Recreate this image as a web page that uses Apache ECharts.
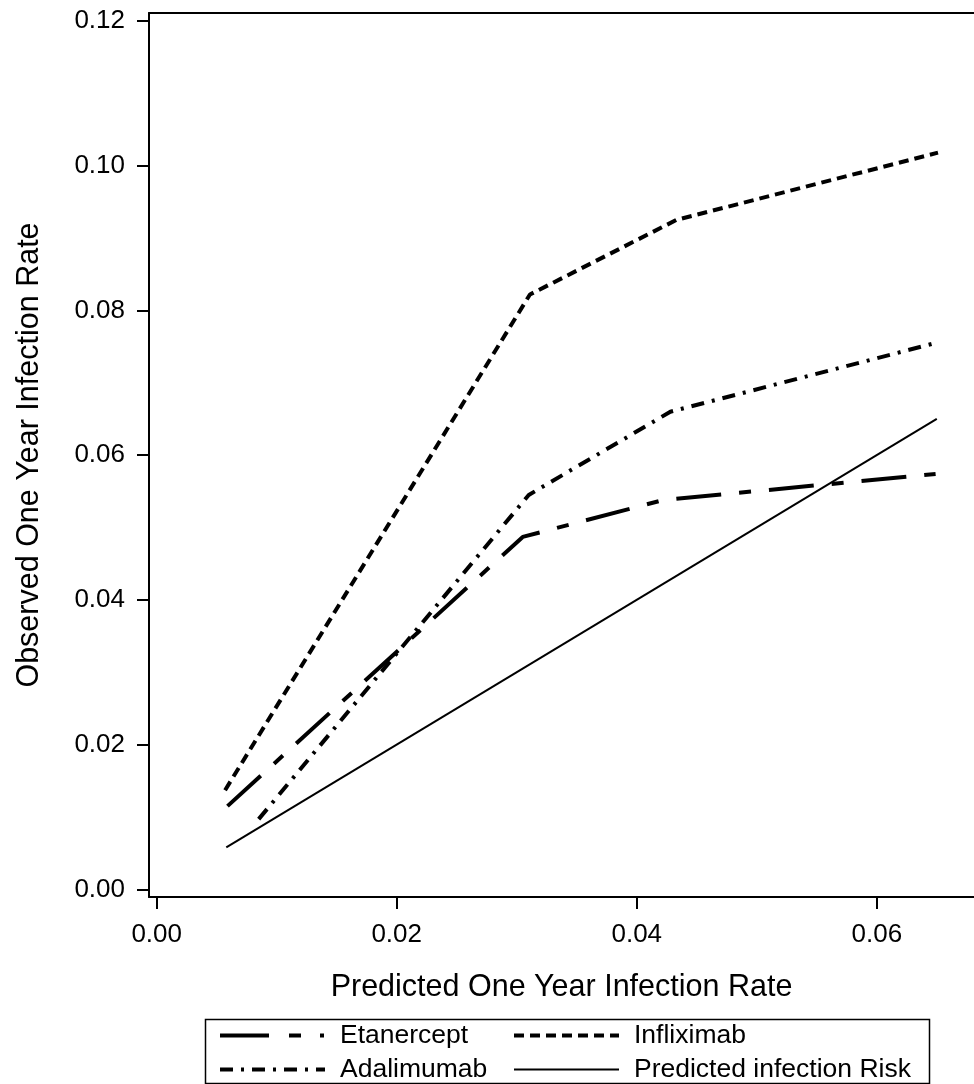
<!DOCTYPE html>
<html>
<head>
<meta charset="utf-8">
<title>Observed vs Predicted One Year Infection Rate</title>
<script src="https://cdn.jsdelivr.net/npm/echarts@6.0.0/dist/echarts.min.js"></script>
<style>
  html, body { margin: 0; padding: 0; background: #fff; }
  #chart { width: 974px; height: 1084px; }
</style>
</head>
<body>
<div id="chart"></div>
<script>
// values
const xTicks = [0, 0.02, 0.04, 0.06]
const yTicks = [0, 0.02, 0.04, 0.06, 0.08, 0.10, 0.12]

const etanerceptX = [0.0059, 0.0305, 0.0422, 0.0649]
const etanerceptY = [0.0115, 0.0487, 0.0538, 0.0574]

const infliximabX = [0.0057, 0.0311, 0.0433, 0.0651]
const infliximabY = [0.0137, 0.0822, 0.0925, 0.1018]

const adalimumabX = [0.0085, 0.0310, 0.0428, 0.0649]
const adalimumabY = [0.0097, 0.0545, 0.0660, 0.0755]

const predictedX = [0.0058, 0.0650]
const predictedY = [0.0058, 0.0650]

const pairs = (xs, ys) => xs.map((x, i) => [x, ys[i]])

const font = 'Liberation Sans, Arial, Helvetica, sans-serif'
const xMin = -0.00064
const xMax = 0.0681

const lineSeries = (name, xs, ys, width, dash) => ({
  name: name,
  type: 'line',
  data: pairs(xs, ys),
  symbol: 'none',
  silent: true,
  lineStyle: { color: '#000', width: width, type: dash, cap: 'butt' },
  itemStyle: { color: '#000' },
})

const legendBase = {
  orient: 'vertical',
  top: 1022,
  bottom: 0,
  padding: 0,
  itemWidth: 105,
  itemHeight: 26,
  itemGap: 7,
  selectedMode: false,
  itemStyle: { opacity: 0 },
  textStyle: { fontFamily: font, fontSize: 26.5, color: '#000', lineHeight: 26, padding: [0, 0, 0, 10] },
}

const chart = echarts.init(document.getElementById('chart'), null, { renderer: 'canvas' })

chart.setOption({
  animation: false,
  backgroundColor: '#fff',
  grid: {
    left: 149,
    top: 13,
    right: 0,
    bottom: 187,
    show: false,
  },
  xAxis: [
    {
      type: 'value',
      min: xMin,
      max: xMax,
      name: 'Predicted One Year Infection Rate',
      nameLocation: 'middle',
      nameGap: 75,
      nameTextStyle: { fontFamily: font, fontSize: 30.5, color: '#000' },
      splitLine: { show: false },
      axisLine: { onZero: false, lineStyle: { color: '#000', width: 2 } },
      axisTick: { customValues: xTicks, length: 12, lineStyle: { color: '#000', width: 2 } },
      axisLabel: {
        customValues: xTicks,
        margin: 25,
        fontFamily: font,
        fontSize: 26,
        color: '#000',
        formatter: v => v.toFixed(2),
      },
    },
    {
      // top frame line only
      type: 'value',
      position: 'top',
      min: xMin,
      max: xMax,
      splitLine: { show: false },
      axisLine: { onZero: false, lineStyle: { color: '#000', width: 2 } },
      axisTick: { show: false },
      axisLabel: { show: false },
    },
  ],
  yAxis: {
    type: 'value',
    min: -0.00106,
    max: 0.1211,
    name: 'Observed One Year Infection Rate',
    nameLocation: 'middle',
    nameGap: 104,
    nameTextStyle: { fontFamily: font, fontSize: 30.5, color: '#000' },
    splitLine: { show: false },
    axisLine: { onZero: false, lineStyle: { color: '#000', width: 2 } },
    axisTick: { customValues: yTicks, length: 12, lineStyle: { color: '#000', width: 2 } },
    axisLabel: {
      customValues: yTicks,
      margin: 24,
      fontFamily: font,
      fontSize: 26,
      color: '#000',
      formatter: v => v.toFixed(2),
    },
  },
  legend: [
    Object.assign({}, legendBase, {
      left: 218,
      data: [
        { name: 'Etanercept', lineStyle: { width: 4, type: [49, 20, 12, 19, 4, 10] } },
        { name: 'Adalimumab', lineStyle: { width: 4 } },
      ],
    }),
    Object.assign({}, legendBase, {
      left: 512,
      data: [
        { name: 'Infliximab', lineStyle: { width: 4 } },
        { name: 'Predicted infection Risk', lineStyle: { width: 2 } },
      ],
    }),
  ],
  graphic: [
    {
      type: 'rect',
      left: 203,
      top: 1017,
      shape: { width: 724, height: 64 },
      style: { fill: 'none', stroke: '#000', lineWidth: 1.5 },
      silent: true,
    },
  ],
  series: [
    lineSeries('Etanercept', etanerceptX, etanerceptY, 4, [45, 18, 12, 18]),
    lineSeries('Infliximab', infliximabX, infliximabY, 4, [10, 6]),
    lineSeries('Adalimumab', adalimumabX, adalimumabY, 4, [13, 8, 3, 8]),
    lineSeries('Predicted infection Risk', predictedX, predictedY, 2, 'solid'),
  ],
})
</script>
</body>
</html>
